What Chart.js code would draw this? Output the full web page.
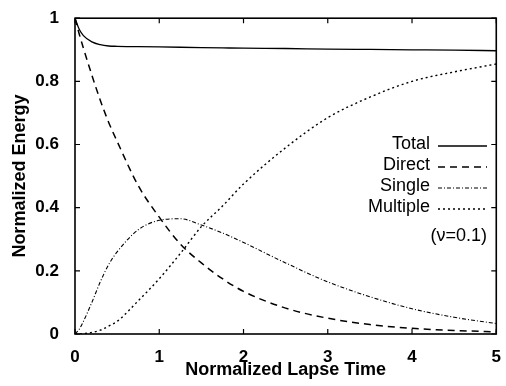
<!DOCTYPE html>
<html>
<head>
<meta charset="utf-8">
<script src="https://cdn.jsdelivr.net/npm/chart.js@4/dist/chart.umd.min.js"></script>
<style>
  html, body { margin: 0; padding: 0; background: #fff; }
  #wrap { width: 506px; height: 386px; }
</style>
</head>
<body>
<div id="wrap"><canvas id="chart" width="506" height="386"></canvas></div>
<script>
// values
const lapseTime = [0, 0.05, 0.1, 0.2, 0.3, 0.4, 0.5, 0.75, 1, 1.25, 1.5, 1.75, 2, 2.5, 3, 3.5, 4, 4.5, 5];
const totalEnergy = [1, 0.965, 0.945, 0.925, 0.916, 0.912, 0.911, 0.91, 0.909, 0.908, 0.907, 0.906, 0.905, 0.904, 0.902, 0.901, 0.9, 0.899, 0.897];
const directEnergy = [1, 0.95, 0.905, 0.82, 0.74, 0.67, 0.61, 0.47, 0.37, 0.285, 0.225, 0.175, 0.135, 0.082, 0.05, 0.03, 0.018, 0.011, 0.007];
const singleEnergy = [0, 0.015, 0.04, 0.1, 0.165, 0.22, 0.26, 0.33, 0.36, 0.365, 0.345, 0.32, 0.29, 0.225, 0.165, 0.118, 0.08, 0.053, 0.033];
const multipleEnergy = [0, 0, 0.001, 0.005, 0.012, 0.025, 0.04, 0.105, 0.175, 0.255, 0.34, 0.405, 0.475, 0.59, 0.685, 0.75, 0.8, 0.83, 0.855];
const xTicks = [0, 1, 2, 3, 4, 5];
const yTicks = [0, 0.2, 0.4, 0.6, 0.8, 1];
const seriesNames = ['Total', 'Direct', 'Single', 'Multiple'];

const FONT = "'Liberation Sans', Arial, sans-serif";
const toPoints = arr => arr.map((v, i) => ({ x: lapseTime[i], y: v }));

const mkSet = (label, arr, dash, width) => ({
  label: label,
  data: toPoints(arr),
  borderColor: '#000',
  borderWidth: width,
  borderDash: dash,
  pointRadius: 0,
  fill: false,
  cubicInterpolationMode: 'monotone'
});

// frame, inner ticks on all four sides, and the in-plot legend
const framePlugin = {
  id: 'frame',
  afterDraw(chart) {
    const { ctx, chartArea: a, scales } = chart;
    ctx.save();
    ctx.strokeStyle = '#000';
    ctx.lineWidth = 1.6;
    ctx.setLineDash([]);
    ctx.strokeRect(a.left, a.top, a.right - a.left, a.bottom - a.top);
    ctx.lineWidth = 1.2;
    ctx.beginPath();
    xTicks.forEach(t => {
      const px = scales.x.getPixelForValue(t);
      ctx.moveTo(px, a.bottom); ctx.lineTo(px, a.bottom - 5);
      ctx.moveTo(px, a.top); ctx.lineTo(px, a.top + 5);
    });
    yTicks.forEach(t => {
      const py = scales.y.getPixelForValue(t);
      ctx.moveTo(a.left, py); ctx.lineTo(a.left + 5, py);
      ctx.moveTo(a.right, py); ctx.lineTo(a.right - 5, py);
    });
    ctx.stroke();

    // legend
    ctx.font = '18px ' + FONT;
    ctx.fillStyle = '#000';
    ctx.textAlign = 'right';
    ctx.textBaseline = 'middle';
    const rows = [144, 165, 186, 207];
    chart.data.datasets.forEach((ds, i) => {
      const y = rows[i];
      ctx.fillText(ds.label, 430, y);
      ctx.setLineDash(ds.borderDash || []);
      ctx.lineWidth = ds.borderWidth;
      ctx.beginPath();
      ctx.moveTo(438, y + 2);
      ctx.lineTo(487, y + 2);
      ctx.stroke();
    });
    ctx.setLineDash([]);
    ctx.fillText('(\u03BD=0.1)', 487, 236);
    ctx.restore();
  }
};

new Chart(document.getElementById('chart'), {
  type: 'line',
  data: {
    datasets: [
      mkSet(seriesNames[0], totalEnergy, [], 1.3),
      mkSet(seriesNames[1], directEnergy, [7, 5], 1.5),
      mkSet(seriesNames[2], singleEnergy, [4, 2, 1, 2], 1.1),
      mkSet(seriesNames[3], multipleEnergy, [2, 3], 1.4)
    ]
  },
  options: {
    responsive: false,
    animation: false,
    layout: { padding: { left: 0, top: 16, right: 3, bottom: 0 } },
    plugins: {
      legend: { display: false },
      tooltip: { enabled: false }
    },
    scales: {
      x: {
        type: 'linear',
        min: 0,
        max: 5,
        afterFit: s => { s.height = 52; },
        afterBuildTicks: s => { s.ticks = xTicks.map(v => ({ value: v })); },
        grid: { display: false },
        border: { display: false },
        ticks: { color: '#000', padding: 5, font: { family: FONT, size: 17, weight: 'bold' } },
        title: {
          display: true,
          text: 'Normalized Lapse Time',
          color: '#000',
          padding: { top: 0, bottom: 5 },
          font: { family: FONT, size: 18, weight: 'bold' }
        }
      },
      y: {
        min: 0,
        max: 1,
        afterFit: s => { s.width = 75; },
        afterBuildTicks: s => { s.ticks = yTicks.map(v => ({ value: v })); },
        grid: { display: false },
        border: { display: false },
        ticks: {
          color: '#000',
          padding: 8,
          font: { family: FONT, size: 17, weight: 'bold' },
          callback: v => String(Math.round(v * 10) / 10)
        },
        title: {
          display: true,
          text: 'Normalized Energy',
          color: '#000',
          padding: { top: 9, bottom: 0 },
          font: { family: FONT, size: 18, weight: 'bold' }
        }
      }
    }
  },
  plugins: [framePlugin]
});
</script>
</body>
</html>
